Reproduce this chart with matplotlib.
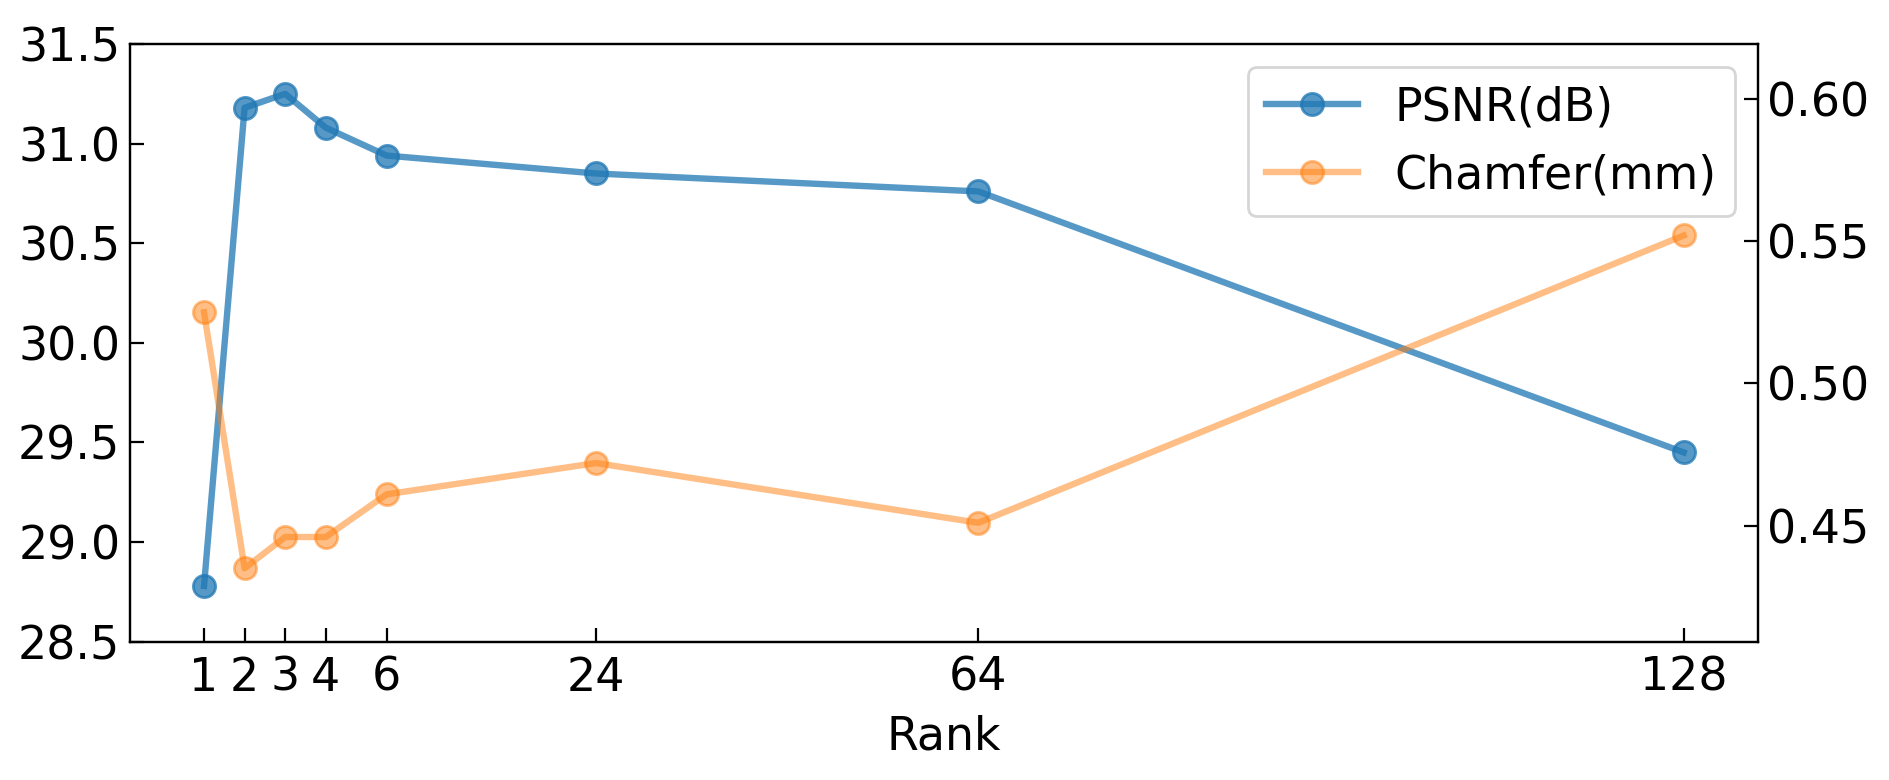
import numpy as np
import matplotlib
matplotlib.use("Agg")
import matplotlib.pyplot as plt

ranks = ["1", "2", "3", "4", "6", "24", "64", "128"]
# horizontal slot of each rank as drawn in the original (not proportional)
rank_pos = [1, 2, 3, 4, 5.5, 10.66, 20.08, 37.46]
psnr = [28.78, 31.18, 31.25, 31.08, 30.94, 30.85, 30.76, 29.45]
chamfer = [0.525, 0.435, 0.446, 0.446, 0.461, 0.472, 0.451, 0.552]

plt.rcParams["font.size"] = 16.5

fig, ax = plt.subplots(figsize=(9.45, 3.9), dpi=200)
fig.subplots_adjust(left=0.0688, right=0.930, top=0.9436, bottom=0.1773)
ax2 = ax.twinx()

l1, = ax.plot(rank_pos, psnr, "o-", color="tab:blue", alpha=0.75, lw=2.3, ms=8, label="PSNR(dB)")
l2, = ax2.plot(rank_pos, chamfer, "o-", color="tab:orange", alpha=0.5, lw=2.3, ms=8, label="Chamfer(mm)")

ax.set_ylim(28.5, 31.5)
ax.set_yticks(np.arange(28.5, 31.51, 0.5))
ax2.set_ylim(0.4092, 0.6193)
ax2.set_yticks([0.45, 0.50, 0.55, 0.60])
ax.set_xticks(rank_pos)
ax.set_xticklabels(ranks)
ax.set_xlabel("Rank", labelpad=5)

ax.tick_params(direction="in", length=5)
ax.tick_params(axis="x", pad=5)
ax2.tick_params(direction="in", length=5)

ax.legend(handles=[l1, l2], loc="upper right", fontsize=16.5)

fig.savefig("out.png", dpi=200)
